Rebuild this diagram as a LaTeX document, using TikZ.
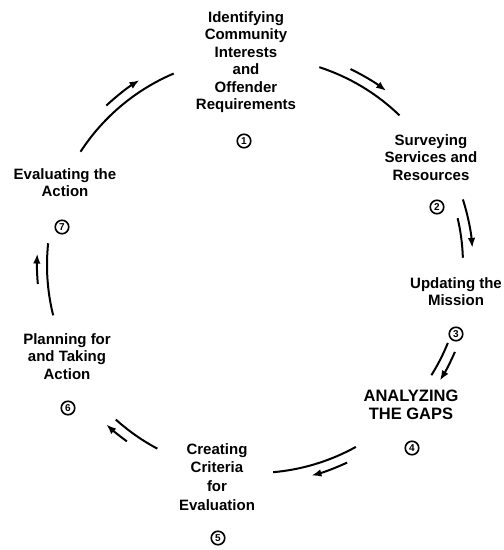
\documentclass[tikz,border=0pt]{standalone}
\usepackage{fontspec}
\setmainfont{Liberation Sans}
\usetikzlibrary{arrows.meta}

\begin{document}
\begin{tikzpicture}[x=1pt, y=1pt,
    stage/.style={align=center, anchor=north, inner sep=0pt,
        font=\bfseries\fontsize{15}{17.5}\selectfont},
    stepnum/.style={circle, draw, line width=1.6pt, minimum size=13.5pt,
        inner sep=0pt, font=\bfseries\fontsize{10}{10}\selectfont},
    cycleline/.style={line width=2pt},
    cyclearrow/.style={line width=2pt, -{Latex[length=10pt, width=7.5pt]}}]
    \def\R{208pt}
    \def\Ra{218pt}

    \useasboundingbox (0,0) rectangle (504,550);
    \coordinate (c) at (255,285);

    % Stages of the cycle
    \node[stage] (stage1) at (246,539) {Identifying\\Community\\Interests\\and\\Offender\\Requirements};
    \node[stage] (stage2) at (431,416) {Surveying\\Services and\\Resources};
    \node[stage] (stage3) at (456,273) {Updating the\\Mission};
    \node[stage, font=\bfseries\fontsize{16.5}{17.5}\selectfont] (stage4) at (411,160) {ANALYZING\\THE GAPS};
    \node[stage, font=\bfseries\fontsize{15}{18.7}\selectfont] (stage5) at (217,107) {Creating\\Criteria\\for\\Evaluation};
    \node[stage] (stage6) at (67,217) {Planning for\\and Taking\\Action};
    \node[stage] (stage7) at (65,382) {Evaluating the\\Action};

    % Step numbers
    \foreach \n/\x/\y in {1/244/409, 2/437/343, 3/456/216, 4/412/102,
                          5/218/12, 6/68/142, 7/62/323}
        \node[stepnum] (num\n) at (\x,\y) {\n};

    % Draw the arcs of the cycle
    \foreach \a/\b in {147/113, 72/46, 13/2, -22/-32, -61/-85, -118/-132, 194/174}
        \draw[cycleline] ([shift={(\a:\R)}]c) arc[start angle=\a, end angle=\b, radius=\R];

    % Draw the arrows beside the arcs
    \foreach \a/\b in {133/122, 64/53, 17.5/4.5, -23.5/-32, -65/-75, -126/-133, 185/177}
        \draw[cyclearrow] ([shift={(\a:\Ra)}]c) arc[start angle=\a, end angle=\b, radius=\Ra];

\end{tikzpicture}
\end{document}
